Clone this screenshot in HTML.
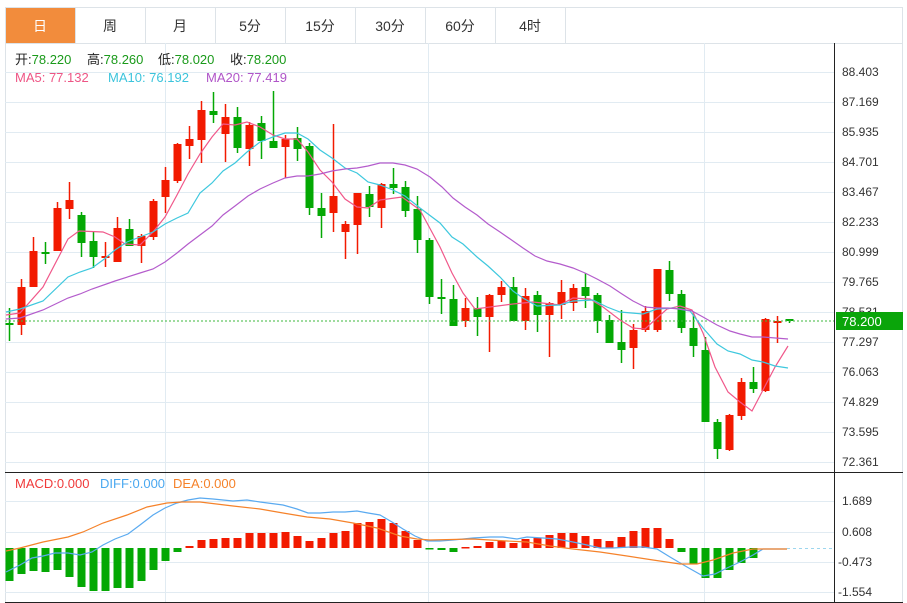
<!DOCTYPE html>
<html><head><meta charset="utf-8"><style>
body{margin:0;width:907px;height:603px;background:#fff;overflow:hidden;font-family:"Liberation Sans","Noto Sans CJK SC",sans-serif;}
svg{position:absolute;left:0;top:0}
</style></head><body>
<svg id="s" width="907" height="603" xmlns="http://www.w3.org/2000/svg" font-family="Liberation Sans, Noto Sans CJK SC, sans-serif">
<rect x="5.5" y="7.5" width="897" height="36" fill="#fff" stroke="#dde3e8"/>
<rect x="6" y="8" width="69" height="35" fill="#f28c3c"/>
<g stroke="#dde3e8"><line x1="75.5" y1="7" x2="75.5" y2="43"/><line x1="145.5" y1="7" x2="145.5" y2="43"/><line x1="215.5" y1="7" x2="215.5" y2="43"/><line x1="285.5" y1="7" x2="285.5" y2="43"/><line x1="355.5" y1="7" x2="355.5" y2="43"/><line x1="425.5" y1="7" x2="425.5" y2="43"/><line x1="495.5" y1="7" x2="495.5" y2="43"/><line x1="565.5" y1="7" x2="565.5" y2="43"/></g>
<g font-size="14" text-anchor="middle" fill="#333">
<text x="40" y="31" fill="#fff">日</text><text x="110" y="31">周</text><text x="180" y="31">月</text><text x="250" y="31">5分</text><text x="320" y="31">15分</text><text x="390" y="31">30分</text><text x="460" y="31">60分</text><text x="530" y="31">4时</text></g>
<line x1="5.5" y1="43" x2="5.5" y2="603" stroke="#dde3e8"/>
<line x1="902.5" y1="43" x2="902.5" y2="603" stroke="#dde3e8"/>
<g stroke="#e1ebf2" id="grid"></g>
<line x1="834.5" y1="43" x2="834.5" y2="603" stroke="#222"/>
<line x1="5" y1="472.5" x2="903" y2="472.5" stroke="#222"/>
<line x1="5" y1="602.5" x2="903" y2="602.5" stroke="#222"/>
<g id="c"></g>
<line x1="5" y1="321" x2="834" y2="321" stroke="#3cb83c" stroke-dasharray="2,2"/>
<g fill="none" stroke-width="1.2">
<polyline stroke="#f0588a" points="6,315 20,313 43,287 68,239 79,231 103,232 115,237 125,244 140,245 153,232 165,217 177,195 188,174 200,154 212,137 223,124 235,125 247,122 260,127 273,135 285,139 297,139 308,152 320,170 332,182 345,199 357,207 368,208 380,200 402,197 420,210 440,247 452,273 463,293 475,309 490,307 513,304 533,302 560,305 573,298 590,299 603,307 620,320 633,328 645,329 657,318 667,309 680,306 692,310 703,333 715,367 728,392 740,402 752,411 763,390 775,367 788,346"/>
<polyline stroke="#3ec8de" points="6,312 20,309 43,301 68,277 80,272 92,268 103,260 115,250 127,242 140,237 153,232 165,224 177,218 188,213 200,193 212,183 223,171 235,163 247,152 260,142 273,137 285,133 297,133 308,139 320,150 332,158 345,168 357,173 368,182 380,185 393,190 405,196 420,208 440,223 452,237 463,244 477,257 488,266 500,277 513,291 523,298 537,306 560,305 573,301 593,300 607,307 620,312 643,314 657,309 673,308 690,311 703,328 717,344 728,351 740,354 752,360 763,362 775,366 788,368"/>
<polyline stroke="#b45ccc" points="6,319 20,318 43,310 68,298 80,294 92,289 115,281 140,273 153,269 165,262 177,253 188,244 200,235 212,226 223,215 235,206 248,196 260,189 273,183 285,178 297,176 308,176 320,174 332,171 345,169 357,168 368,166 380,163 393,163 405,165 417,169 430,177 442,187 453,198 465,207 477,215 488,224 500,232 513,241 523,248 535,256 547,261 560,264 573,268 585,273 597,279 610,286 622,294 633,301 645,307 657,308 668,308 680,309 692,311 703,317 717,325 730,331 740,334 752,337 763,337 788,339"/>
</g>
<line x1="787" y1="548.5" x2="834" y2="548.5" stroke="#9dd6ee" stroke-dasharray="3,3"/>
<g fill="none" stroke-width="1.2">
<polyline stroke="#5aaaf0" points="6,572 20,565 32,558 43,556 55,553 68,553 80,555 92,552 103,545 115,539 128,534 140,525 153,515 165,508 177,503 188,500 200,498 213,499 233,501 247,500 260,502 283,505 297,509 308,513 320,513 333,512 345,512 357,511 368,513 380,515 392,522 403,529 415,536 427,541 440,541 453,540 473,538 490,537 503,537 517,539 527,537 543,538 557,539 573,542 587,545 600,548 613,548 630,547 643,547 657,549 670,557 687,567 703,576 715,574 727,568 740,562 753,555 763,549 787,549"/>
<polyline stroke="#f5822a" points="6,551 20,548 43,542 68,537 83,532 103,523 127,515 147,507 167,503 182,502 200,502 233,506 260,509 283,513 307,517 330,519 353,523 377,528 400,536 417,539 430,540 473,539 507,541 527,542 550,546 573,549 600,552 627,556 653,560 680,564 697,564 713,560 733,553 753,549 787,549"/>
</g>
<g font-size="12" fill="#333">
<text x="842" y="76">88.403</text><text x="842" y="106">87.169</text><text x="842" y="136">85.935</text><text x="842" y="166">84.701</text><text x="842" y="196">83.467</text><text x="842" y="226">82.233</text><text x="842" y="256">80.999</text><text x="842" y="286">79.765</text><text x="842" y="316">78.531</text><text x="842" y="346">77.297</text><text x="842" y="376">76.063</text><text x="842" y="406">74.829</text><text x="842" y="436">73.595</text><text x="842" y="466">72.361</text>
<text x="842" y="505">1.689</text><text x="842" y="536">0.608</text><text x="838" y="566">-0.473</text><text x="838" y="596">-1.554</text>
</g>
<rect x="836" y="312" width="67" height="18" fill="#0aa50a"/>
<text x="842" y="326" font-size="13" fill="#fff">78.200</text>
<g font-size="13">
<text x="15" y="64" fill="#222">开:<tspan fill="#1a9a1a">78.220</tspan></text>
<text x="87" y="64" fill="#222">高:<tspan fill="#1a9a1a">78.260</tspan></text>
<text x="158" y="64" fill="#222">低:<tspan fill="#1a9a1a">78.020</tspan></text>
<text x="230" y="64" fill="#222">收:<tspan fill="#1a9a1a">78.200</tspan></text>
<text x="15" y="82" fill="#ee5585">MA5: 77.132</text><text x="108" y="82" fill="#3cc4dc">MA10: 76.192</text><text x="206" y="82" fill="#b055c8">MA20: 77.419</text>
<text x="15" y="488" fill="#f03a3a">MACD:0.000</text><text x="100" y="488" fill="#4aa8f0">DIFF:0.000</text><text x="173" y="488" fill="#f5822a">DEA:0.000</text>
</g>
</svg>
<script>
var NS="http://www.w3.org/2000/svg",g=document.getElementById('grid'),c=document.getElementById('c');
function el(p,t,a){var e=document.createElementNS(NS,t);for(var k in a)e.setAttribute(k,a[k]);p.appendChild(e);return e;}
for(var y=72;y<=462;y+=30)el(g,'line',{x1:5,x2:834,y1:y+.5,y2:y+.5});
[501,532,562,592].forEach(function(y){el(g,'line',{x1:5,x2:834,y1:y+.5,y2:y+.5});});
[165,428,704].forEach(function(x){el(g,'line',{x1:x+.5,x2:x+.5,y1:43,y2:602});});
var D=[[308,341,323,324,0],[279,335,287,325,1],[237,287,251,287,1],[242,264,252,253,0],[202,251,208,251,1],[182,219,200,209,1],[212,257,215,243,0],[231,268,241,257,0],[242,267,256,257,1],[217,262,228,262,1],[219,246,229,246,0],[234,263,236,246,1],[199,240,201,237,1],[167,213,180,197,1],[143,183,144,181,1],[126,159,139,146,1],[101,163,110,140,1],[92,123,111,115,0],[104,162,117,134,1],[107,153,117,148,0],[122,166,125,149,1],[116,159,123,141,0],[91,148,141,148,0],[135,178,139,147,1],[127,161,138,149,0],[143,215,146,208,0],[193,238,208,216,0],[124,232,196,213,1],[221,259,224,232,1],[193,254,193,225,1],[186,217,194,207,0],[183,228,184,208,1],[168,194,184,188,0],[181,217,187,211,0],[196,253,209,240,0],[238,304,240,297,0],[279,314,297,299,0],[285,326,299,326,0],[298,327,308,321,1],[297,336,308,317,0],[294,352,295,317,1],[281,302,287,295,1],[277,321,287,321,0],[288,330,296,321,1],[291,332,295,315,0],[302,357,303,315,1],[280,319,292,305,1],[284,311,288,303,1],[273,308,287,296,0],[293,333,295,321,0],[315,343,320,343,0],[310,363,342,350,0],[324,369,330,348,1],[306,332,311,330,1],[269,332,269,330,1],[261,301,270,294,0],[290,333,294,328,0],[312,357,328,346,0],[337,422,350,422,0],[419,459,422,449,0],[414,451,415,450,1],[378,420,382,416,1],[367,393,382,389,0],[318,392,319,391,1],[316,343,321,322,1],[319,323,319,321,0]];
D.forEach(function(d,i){var x=9+12*i,col=d[4]?'#f21a00':'#04a804';
el(c,'line',{x1:x+.5,x2:x+.5,y1:d[0],y2:d[1],stroke:col,'stroke-width':1.5});
el(c,'rect',{x:x-3.5,y:d[2],width:8,height:Math.max(2,d[3]-d[2]),fill:col});});
var M=[581,574,571,572,570,577,587,591,591,588,588,581,570,561,552,546,540,539,538,538,533,533,533,532,536,541,538,533,531,523,522,519,523,531,540,549,550,552,547,546,542,541,543,539,538,535,533,533,536,539,541,537,531,528,528,539,552,564,578,578,570,563,558,548,548,548];
M.forEach(function(v,i){var x=9+12*i;if(Math.abs(v-548)<1)return;var t=Math.min(v,548),h=Math.abs(v-548);
el(c,'rect',{x:x-3.5,y:t,width:8,height:Math.max(1.5,h),fill:v<548?'#f21a00':'#04a804'});});
</script>
</body></html>
